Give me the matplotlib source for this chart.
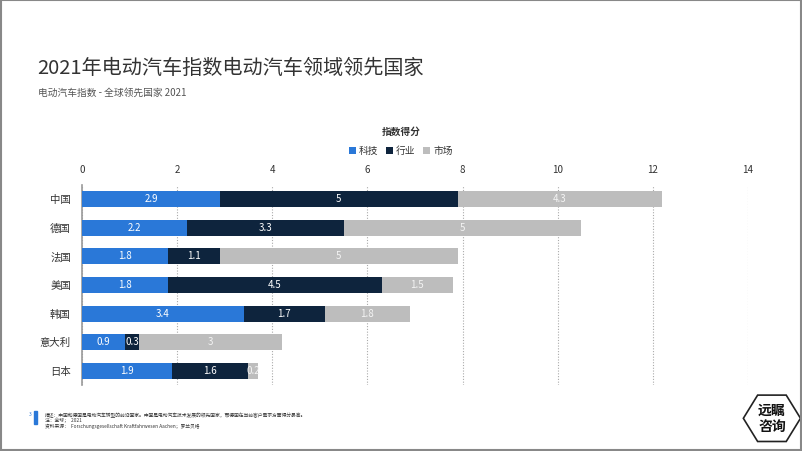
import numpy as np
import matplotlib.pyplot as plt
from matplotlib.patches import Rectangle, RegularPolygon

plt.rcParams['font.family'] = ['Noto Sans CJK SC', 'DejaVu Sans']

# data
countries = ["中国", "德国", "法国", "美国", "韩国", "意大利", "日本"]
tech = [2.9, 2.2, 1.8, 1.8, 3.4, 0.9, 1.9]
industry = [5, 3.3, 1.1, 4.5, 1.7, 0.3, 1.6]
market = [4.3, 5, 5, 1.5, 1.8, 3, 0.2]
series_names = ["科技", "行业", "市场"]
colors = ["#2a78d8", "#0e243d", "#bdbdbd"]
xticks = [0, 2, 4, 6, 8, 10, 12, 14]

fig = plt.figure(figsize=(8.02, 4.51), dpi=100)
ax = fig.add_axes([0.1022, 0.1463, 0.8304, 0.4435])

y = np.arange(len(countries))
left = np.zeros(len(countries))
for vals, name, c in zip([tech, industry, market], series_names, colors):
    vals = np.array(vals)
    ax.barh(y, vals, left=left, height=0.56, color=c, label=name, zorder=3)
    txtcol = "white" if c != "#bdbdbd" else "#f4f4f4"
    for yi, l, v in zip(y, left, vals):
        ax.text(l + v / 2, yi, f"{v:g}", ha="center", va="center",
                color=txtcol, fontsize=7, zorder=4)
    left = left + vals

ax.set_xlim(0, 14)
ax.set_ylim(6.5, -0.5)
ax.set_xticks(xticks)
ax.xaxis.tick_top()
ax.tick_params(axis="x", length=0, labelsize=7, labelcolor="#333333", pad=7)
ax.set_yticks(y)
ax.set_yticklabels(countries)
ax.tick_params(axis="y", length=0, labelsize=7.5, labelcolor="#333333", pad=8)
ax.grid(axis="x", linestyle=(0, (1, 1.5)), color="#aaaaaa", linewidth=0.8, zorder=0)
for s in ["top", "right", "bottom"]:
    ax.spines[s].set_visible(False)
ax.spines["left"].set_color("#999999")
ax.spines["left"].set_linewidth(1.2)

# legend and axis title
fig.text(0.5, 0.707, "指数得分", ha="center", va="center", fontsize=7,
         color="#333333", fontweight="bold")
ax.legend(loc="center", bbox_to_anchor=(0.5, 0.665), bbox_transform=fig.transFigure,
          ncol=3, frameon=False,
          fontsize=7, handlelength=0.7, handleheight=0.7, handletextpad=0.3,
          columnspacing=0.8, labelcolor="#333333")

# titles
fig.text(0.047, 0.848, "2021年电动汽车指数电动汽车领域领先国家", fontsize=14.5,
         color="#333333", va="center", fontweight="light")
fig.text(0.047, 0.795, "电动汽车指数 - 全球领先国家 2021", fontsize=7,
         color="#555555", va="center")

# footnote
fig.patches.append(Rectangle((0.043, 0.060), 0.003, 0.028,
                             transform=fig.transFigure, color="#2a78d8"))
fig.text(0.036, 0.080, "3", fontsize=3.5, color="#2a78d8", va="center")
fig.text(0.056, 0.080, "描述：中国和德国是电动汽车转型的前沿国家。中国是电动汽车技术发展的领先国家，而德国在当前客户需求方面得分最高。",
         fontsize=3.45, color="#333333", va="center")
fig.text(0.056, 0.067, "注：全球；  2021", fontsize=3.45, color="#333333", va="center")
fig.text(0.056, 0.054, "资料来源：  Forschungsgesellschaft Kraftfahrwesen Aachen；罗兰贝格",
         fontsize=3.45, color="#333333", va="center")

# logo
logo_ax = fig.add_axes([0.925, 0.01, 0.075, 0.125])
logo_ax.set_xlim(-1, 1)
logo_ax.set_ylim(-1, 1)
logo_ax.axis("off")
logo_ax.add_patch(RegularPolygon((0, 0), 6, radius=0.95, orientation=np.pi / 6,
                                 facecolor="white", edgecolor="#222222", linewidth=1.2))
logo_ax.text(0, 0.28, "远瞩", ha="center", va="center", fontsize=10, fontweight="bold",
             color="#111111")
logo_ax.text(0, -0.32, "咨询", ha="center", va="center", fontsize=10, fontweight="bold",
             color="#111111")

# frame
fig.patches.append(Rectangle((0.001, 0.003), 0.998, 0.996, transform=fig.transFigure,
                             fill=False, edgecolor="#888888", linewidth=1.5))

fig.savefig("out.png", dpi=100)
